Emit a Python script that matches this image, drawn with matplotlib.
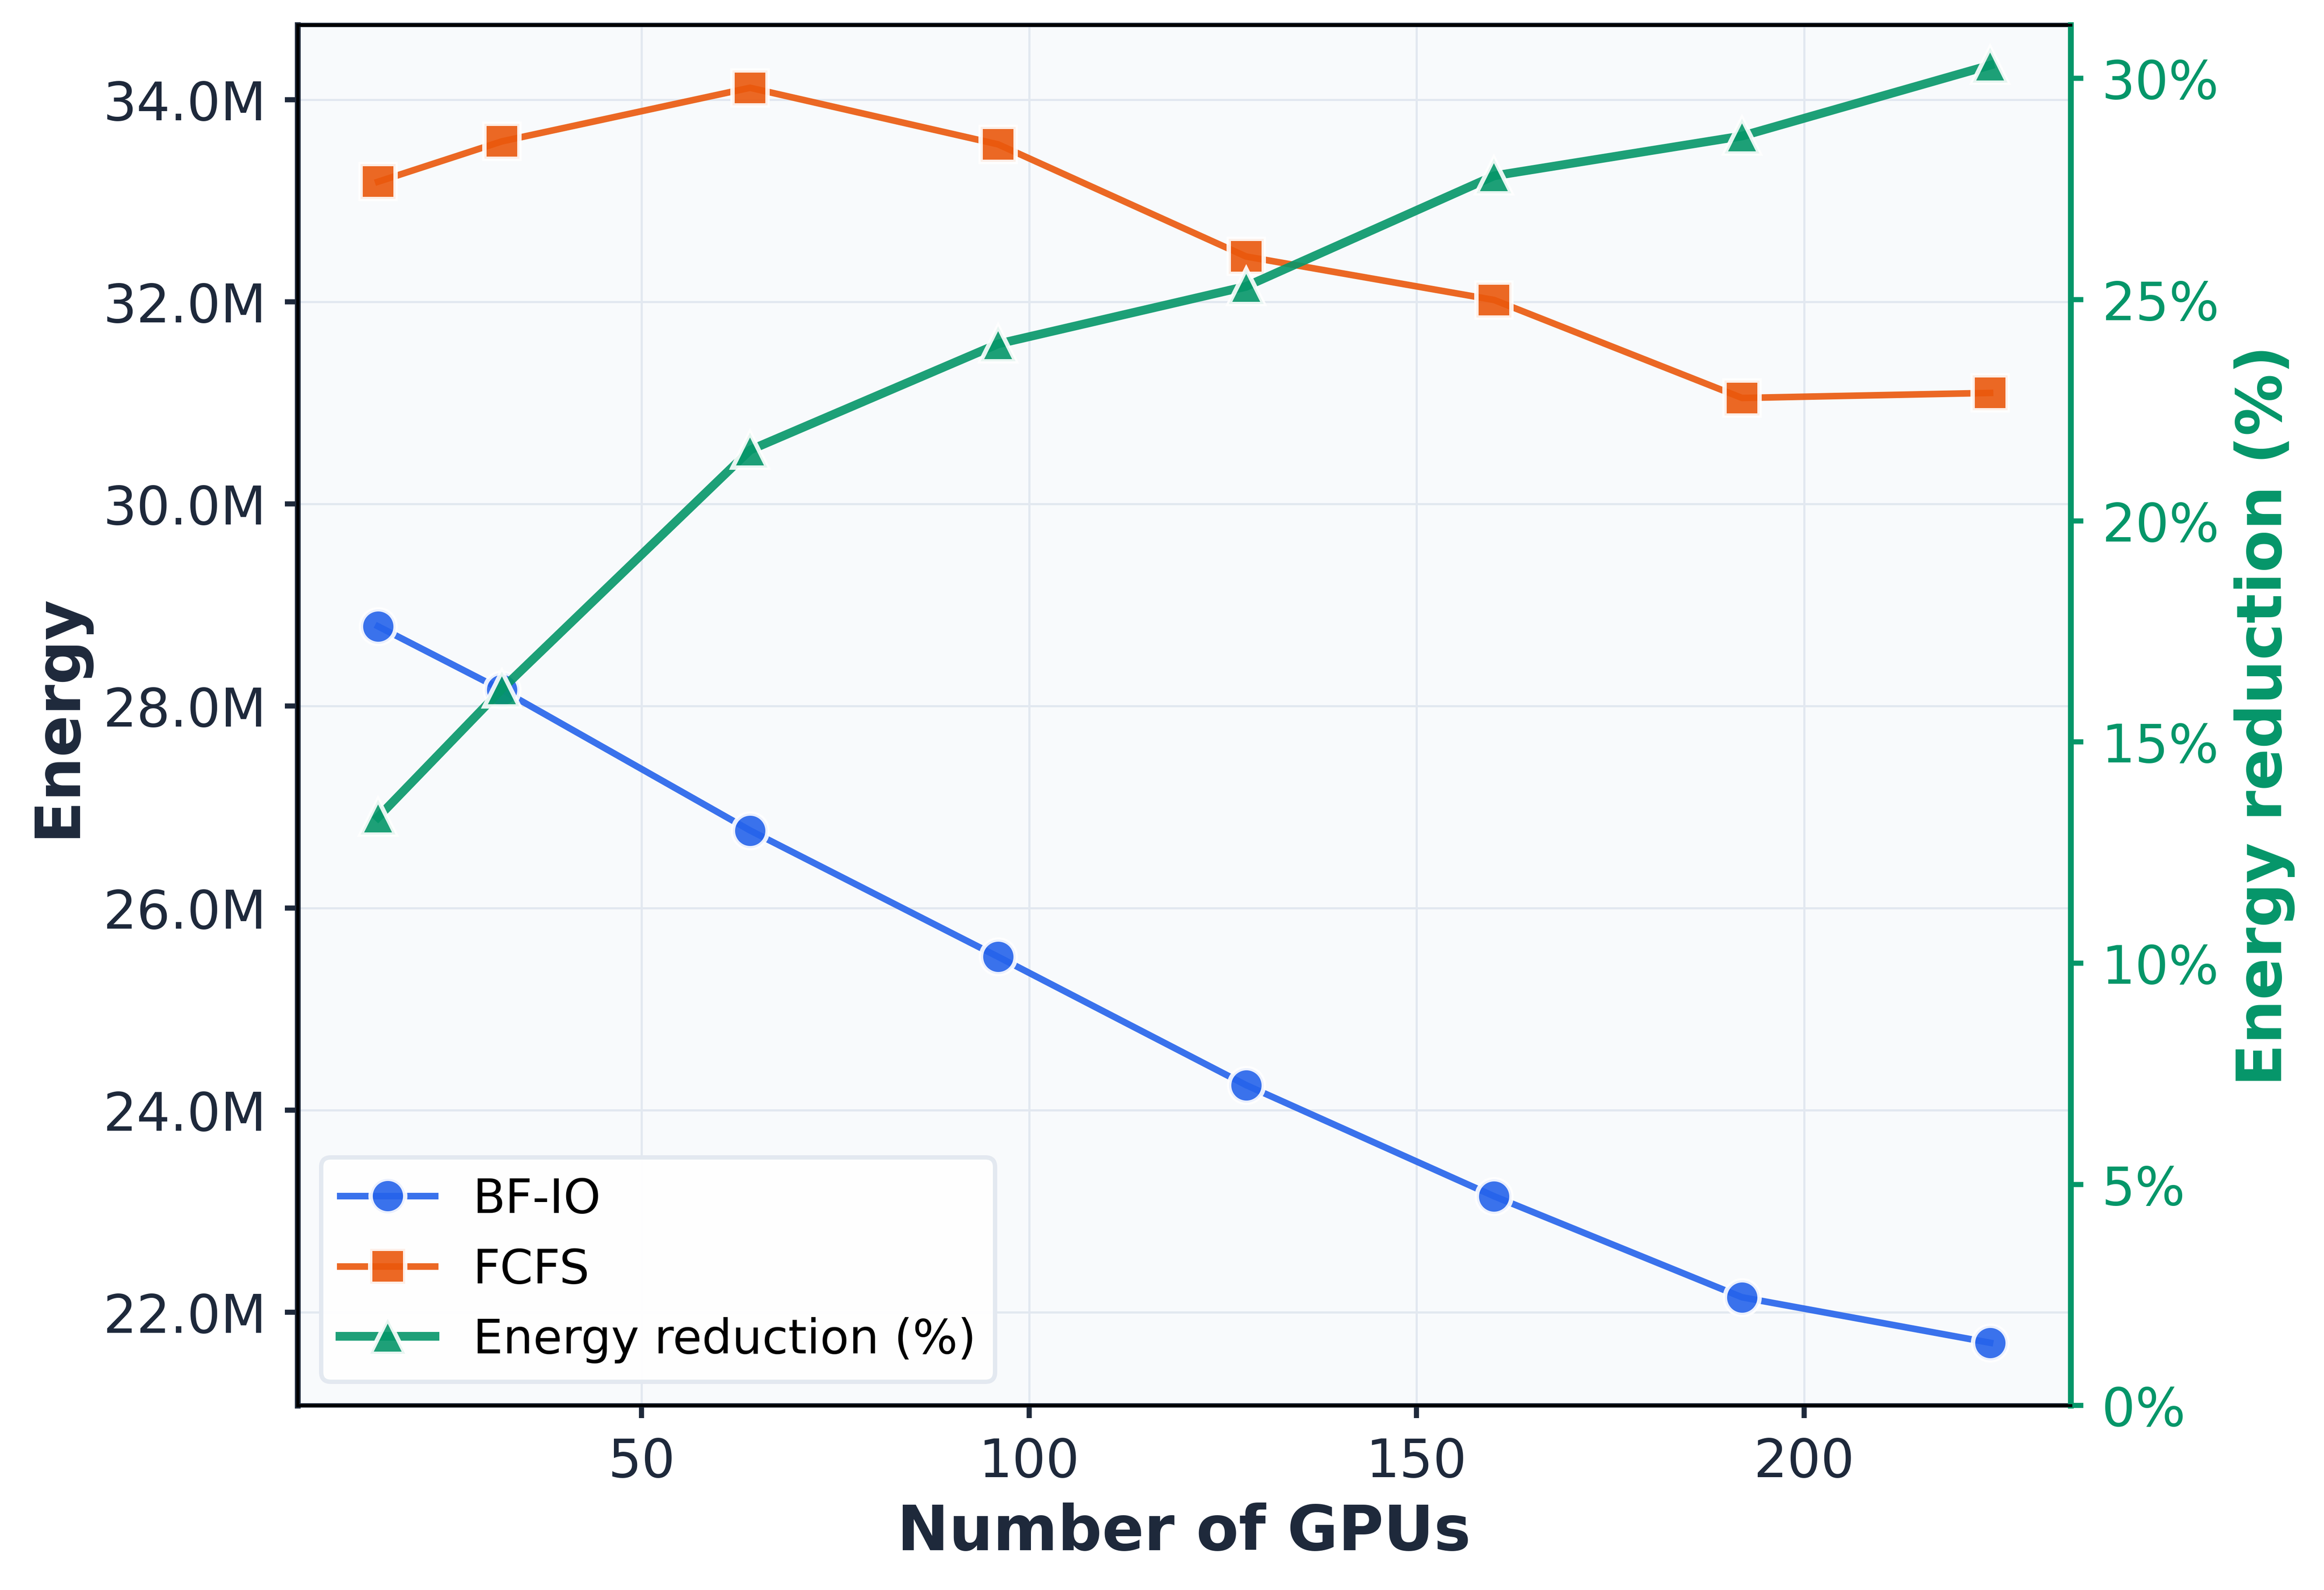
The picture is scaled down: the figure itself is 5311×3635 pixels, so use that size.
import numpy as np
import matplotlib
matplotlib.use('Agg')
import matplotlib.pyplot as plt
from matplotlib.ticker import FuncFormatter, MultipleLocator

# data
gpus = [16, 32, 64, 96, 128, 160, 192, 224]
bfio = [28.79e6, 28.16e6, 26.77e6, 25.52e6, 24.25e6, 23.15e6, 22.15e6, 21.70e6]
fcfs = [33.19e6, 33.59e6, 34.12e6, 33.56e6, 32.45e6, 32.02e6, 31.05e6, 31.10e6]
reduction = [13.3, 16.2, 21.6, 24.0, 25.3, 27.8, 28.7, 30.3]

c_blue = '#2563EB'
c_orange = '#EA580C'
c_green = '#059669'
c_text = '#1E293B'
c_grid = '#E2E8F0'

fig = plt.figure(figsize=(5311/600, 3636/600), dpi=600)
ax1 = fig.add_axes([0.128, 0.116, 0.763, 0.868])
ax1.set_facecolor('#F8FAFC')

l1, = ax1.plot(gpus, bfio, color=c_blue, marker='o', markersize=9.5, lw=1.8,
               markeredgecolor='white', markeredgewidth=1.2, alpha=0.9, label='BF-IO')
l2, = ax1.plot(gpus, fcfs, color=c_orange, marker='s', markersize=9.5, lw=1.8,
               markeredgecolor='white', markeredgewidth=1.2, alpha=0.9, label='FCFS')

ax1.yaxis.set_major_locator(MultipleLocator(2e6))
ax1.yaxis.set_major_formatter(FuncFormatter(lambda v, p: f'{v/1e6:.1f}M'))
ax1.grid(True, color=c_grid, lw=0.6)
ax1.set_axisbelow(True)
ax1.set_xlabel('Number of GPUs', fontsize=17, fontweight='bold', color=c_text)
ax1.set_ylabel('Energy', fontsize=17, fontweight='bold', color=c_text)
ax1.tick_params(axis='both', labelsize=14.5, colors=c_text, width=1.4, length=3.5, pad=5)
for s in ax1.spines.values():
    s.set_color(c_text)
    s.set_linewidth(1.2)
ax1.spines['left'].set_linewidth(1.6)

ax2 = ax1.twinx()
l3, = ax2.plot(gpus, reduction, color=c_green, marker='^', markersize=9.5, lw=2.4,
               markeredgecolor='white', markeredgewidth=1.2, alpha=0.9,
               label='Energy reduction (%)')
ax2.set_ylim(0, max(reduction) * 1.03)
ax2.yaxis.set_major_locator(MultipleLocator(5))
ax2.yaxis.set_major_formatter(FuncFormatter(lambda v, p: f'{v:.0f}%'))
ax2.set_ylabel('Energy reduction (%)', fontsize=17, fontweight='bold', color=c_green)
ax2.tick_params(axis='y', labelsize=14.5, colors=c_green, width=1.4, length=3.5, pad=5)
ax2.spines['right'].set_color(c_green)
ax2.spines['right'].set_linewidth(1.6)

leg = ax2.legend(handles=[l1, l2, l3], loc='lower left', fontsize=13,
                 frameon=True, fancybox=True, framealpha=0.95,
                 edgecolor=c_grid, facecolor='white', borderpad=0.4)
leg.get_frame().set_linewidth(1.2)

fig.savefig('out.png', dpi=600)
